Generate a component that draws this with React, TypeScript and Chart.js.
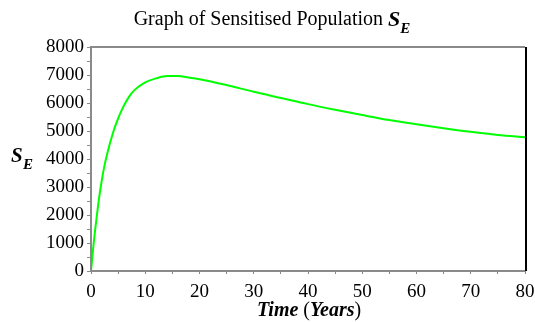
import React, { useEffect, useRef } from "react";
import { Chart, registerables } from "chart.js";

Chart.register(...registerables);

const times = [0, 0.5, 1, 1.5, 2, 2.5, 3, 4, 5, 6, 7, 8, 10, 12, 14, 16, 18, 20, 25, 30, 35, 40, 45, 50, 55, 60, 65, 70, 75, 80];
const sensitised = [0, 1000, 1850, 2620, 3250, 3780, 4200, 4900, 5450, 5880, 6220, 6460, 6740, 6880, 6960, 6960, 6910, 6850, 6640, 6400, 6180, 5960, 5760, 5570, 5390, 5240, 5100, 4970, 4860, 4780];
const titleText = "Graph of Sensitised Population ";
const xTitleParts = ["Time", " (", "Years", ")"];
const yTickMax = 8000;
const xTickMax = 80;

const SERIF = "'Liberation Serif', 'DejaVu Serif', serif";

const textPlugin = {
  id: "customText",
  afterDraw(chart: any) {
    const ctx = chart.ctx;
    const a = chart.chartArea;
    ctx.save();
    // frame
    ctx.lineWidth = 2;
    ctx.strokeStyle = "#8a8a8a";
    ctx.beginPath();
    ctx.moveTo(a.left, a.bottom);
    ctx.lineTo(a.left, a.top);
    ctx.lineTo(a.right, a.top);
    ctx.stroke();
    ctx.beginPath();
    ctx.moveTo(a.left, a.bottom);
    ctx.lineTo(a.right, a.bottom);
    ctx.stroke();
    ctx.strokeStyle = "#000";
    ctx.beginPath();
    ctx.moveTo(a.right + 1, a.top);
    ctx.lineTo(a.right + 1, a.bottom);
    ctx.stroke();

    ctx.fillStyle = "#000";
    ctx.textBaseline = "alphabetic";
    ctx.textAlign = "left";
    // title
    ctx.font = `20px ${SERIF}`;
    const tw = ctx.measureText(titleText).width;
    ctx.font = `bold italic 22px ${SERIF}`;
    const sw = ctx.measureText("S").width;
    ctx.font = `bold italic 15px ${SERIF}`;
    const ew = ctx.measureText("E").width;
    const total = tw + sw + ew;
    let x = 272 - total / 2;
    ctx.font = `20px ${SERIF}`;
    ctx.fillText(titleText, x, 25);
    x += tw;
    ctx.font = `bold italic 22px ${SERIF}`;
    ctx.fillText("S", x, 26);
    x += sw;
    ctx.font = `bold italic 15px ${SERIF}`;
    ctx.fillText("E", x, 33);

    // y label
    ctx.font = `bold italic 21px ${SERIF}`;
    ctx.fillText("S", 11, 162);
    ctx.font = `bold italic 15px ${SERIF}`;
    ctx.fillText("E", 23, 169);

    // x title
    const fonts = [`bold italic 20px ${SERIF}`, `20px ${SERIF}`, `bold italic 20px ${SERIF}`, `20px ${SERIF}`];
    const widths = xTitleParts.map((p, i) => {
      ctx.font = fonts[i];
      return ctx.measureText(p).width;
    });
    const tot = widths.reduce((s, w) => s + w, 0);
    let xx = 309 - tot / 2;
    xTitleParts.forEach((p, i) => {
      ctx.font = fonts[i];
      ctx.fillText(p, xx, 316);
      xx += widths[i];
    });
    ctx.restore();
  },
};

export default function App() {
  const ref = useRef<HTMLCanvasElement | null>(null);
  useEffect(() => {
    if (!ref.current) return;
    const chart = new Chart(ref.current, {
      type: "line",
      data: {
        datasets: [
          {
            data: times.map((t, i) => ({ x: t, y: sensitised[i] })),
            borderColor: "#00ff00",
            borderWidth: 2,
            pointRadius: 0,
            cubicInterpolationMode: "monotone",
            fill: false,
          },
        ],
      },
      options: {
        animation: false,
        responsive: false,
        layout: { padding: { left: 0, right: 10, top: 47, bottom: 0 } },
        plugins: { legend: { display: false }, title: { display: false }, tooltip: { enabled: false } },
        scales: {
          x: {
            type: "linear",
            min: 0,
            max: xTickMax,
            afterFit: (s: any) => {
              s.height = 51;
              s.paddingLeft = 0;
              s.paddingRight = 0;
            },
            grid: { drawOnChartArea: false, color: "#8a8a8a", tickLength: 3 },
            border: { display: false },
            ticks: {
              stepSize: 5,
              autoSkip: false,
              maxRotation: 0,
              padding: 7,
              color: "#000",
              font: { family: SERIF, size: 19 },
              callback: (v: any) => (Number(v) % 10 === 0 ? String(v) : ""),
            },
          },
          y: {
            type: "linear",
            min: 0,
            max: yTickMax,
            afterFit: (s: any) => {
              s.width = 91;
              s.paddingTop = 0;
              s.paddingBottom = 0;
            },
            grid: { drawOnChartArea: false, color: "#8a8a8a", tickLength: 4 },
            border: { display: false },
            ticks: {
              stepSize: 500,
              autoSkip: false,
              padding: 3,
              color: "#000",
              font: { family: SERIF, size: 19 },
              callback: (v: any) => (Number(v) % 1000 === 0 ? String(v) : ""),
            },
          },
        },
      },
      plugins: [textPlugin],
    });
    return () => chart.destroy();
  }, []);
  return (
    <div style={{ position: "absolute", left: 0, top: 0, width: 535, height: 322, background: "#fff" }}>
      <canvas ref={ref} width={535} height={322} style={{ width: 535, height: 322, display: "block" }} />
    </div>
  );
}
